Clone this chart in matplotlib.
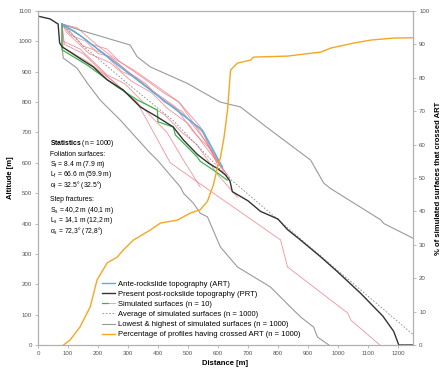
import numpy as np
import matplotlib
matplotlib.use("Agg")
import matplotlib.pyplot as plt
from matplotlib.legend_handler import HandlerTuple

plt.rcParams['font.family'] = ['Liberation Sans', 'DejaVu Sans']
plt.rcParams['mathtext.fontset'] = 'custom'
plt.rcParams['mathtext.rm'] = 'Liberation Sans'
plt.rcParams['mathtext.it'] = 'Liberation Sans:italic'
plt.rcParams['mathtext.bf'] = 'Liberation Sans:bold'

# profils (distance [m], altitude [m])
art_x = [80, 140, 274, 548, 615]
art_y = [1057, 1020, 916, 708, 586]

prt_x = [0, 40, 67, 72, 80, 107, 147, 184, 231, 284, 341, 398, 451, 485, 531, 570, 600,
         625, 640, 648, 700, 742, 800, 832, 870, 943, 1000, 1076, 1150, 1186, 1203, 1250]
prt_y = [1083, 1074, 1057, 995, 982, 965, 939, 916, 873, 840, 784, 751, 718, 675, 628, 598, 580,
         560, 540, 505, 475, 440, 415, 380, 350, 290, 240, 170, 95, 45, 0, 0]

green_x = [80, 80, 97, 164, 264, 331, 398, 400, 451, 458, 531, 541, 585, 631]
green_y = [1057, 972, 962, 922, 850, 807, 774, 735, 718, 692, 619, 605, 576, 543]

red_lines = [
    ([80, 150, 264, 350, 450, 550, 610], [1057, 1012, 929, 860, 790, 700, 585]),
    ([80, 120, 180, 230, 270, 350, 420, 470, 540, 600], [1057, 1035, 990, 975, 935, 880, 830, 800, 720, 590]),
    ([80, 110, 160, 200, 240, 300, 360, 420, 480, 560, 620], [1057, 1020, 1000, 960, 950, 900, 860, 800, 770, 670, 570]),
    ([80, 100, 150, 220, 280, 330, 400, 460, 520, 580, 630], [1057, 1040, 985, 960, 900, 880, 820, 780, 700, 640, 560]),
    ([80, 95, 170, 240, 310, 380, 430, 500, 560, 640], [1057, 1030, 960, 930, 870, 830, 780, 730, 650, 550]),
    ([80, 85, 140, 230, 290, 350, 420, 480, 530, 600, 665], [1057, 1000, 975, 890, 860, 800, 760, 700, 660, 560, 487]),
    ([80, 88, 150, 220, 330, 441, 585, 809, 832, 1033, 1043, 1140], [1057, 990, 960, 895, 800, 600, 500, 346, 257, 105, 82, 0]),
    ([80, 84, 170, 260, 350, 430, 485, 541], [1057, 980, 930, 860, 780, 700, 609, 520]),
    ([80, 130, 200, 260, 320, 400, 470, 540, 600], [1057, 1045, 985, 940, 905, 850, 800, 700, 600]),
]

avg_x = [80, 150, 300, 450, 631, 1250]
avg_y = [1057, 985, 860, 740, 555, 35]

high_x = [80, 140, 174, 307, 330, 374, 497, 608, 675, 775, 909, 953, 976, 1143, 1153, 1250]
high_y = [1057, 1037, 1027, 988, 950, 916, 862, 800, 784, 708, 609, 533, 515, 412, 400, 352]

low_x = [80, 80, 84, 130, 164, 207, 274, 374, 398, 475, 485, 518, 541, 565, 608, 665,
         775, 842, 876, 919, 932, 970]
low_y = [1057, 988, 945, 912, 863, 807, 741, 632, 609, 520, 500, 467, 434, 422, 323, 257,
         191, 125, 92, 59, 26, 0]

# pourcentage de profils ayant traversé ART
pct_x = [85, 107, 140, 174, 197, 231, 264, 284, 318, 374, 408, 465, 508, 541, 565, 585, 598,
         608, 620, 632, 642, 665, 709, 719, 832, 943, 976, 1053, 1110, 1186, 1250]
pct_y = [0, 1.5, 5.4, 11.4, 19.5, 24.6, 26.3, 28.4, 31.4, 34.4, 36.5, 37.4, 39.5, 40.5, 43, 48, 53,
         56, 62, 70.4, 82.3, 84.4, 85.3, 86.2, 86.5, 87.7, 88.9, 90.4, 91.3, 91.9, 92.0]

gris = "#9a9a9a"
fs = 4.9
fs_leg = 5.5

fig = plt.figure(figsize=(4.41, 3.73), dpi=100)
ax = fig.add_axes([0.0862, 0.0751, 0.850, 0.8954])
ax2 = ax.twinx()

for rx, ry in red_lines:
    l_red, = ax.plot(rx, ry, color="#ee7682", lw=0.6, alpha=0.8)
l_high, = ax.plot(high_x, high_y, color=gris, lw=0.8)
ax.plot(low_x, low_y, color=gris, lw=0.8)
l_avg, = ax.plot(avg_x, avg_y, color="#8a8a8a", lw=0.6, ls=(0, (2, 2)))
l_green, = ax.plot(green_x, green_y, color="#3cb54a", lw=0.9)
l_art, = ax.plot(art_x, art_y, color="#45b4e8", lw=1.0)
l_prt, = ax.plot(prt_x, prt_y, color="#333333", lw=1.0)
l_pct, = ax2.plot(pct_x, pct_y, color="#f5a623", lw=1.0)

ax.set_xlim(0, 1250)
ax.set_ylim(0, 1100)
ax2.set_ylim(0, 100)
ax.set_xticks(np.arange(0, 1201, 100))
ax.set_yticks(np.arange(0, 1101, 100))
ax2.set_yticks(np.arange(0, 101, 10))

for a in (ax, ax2):
    for s in a.spines.values():
        s.set_color("#b0b0b0")
        s.set_linewidth(0.8)
    a.tick_params(labelsize=4.4, colors="#555555", length=2.5, width=0.6, pad=2)
    a.tick_params(color="#b0b0b0")

ax.set_xlabel("Distance [m]", fontsize=5.5, fontweight="bold", labelpad=3)
ax.set_ylabel("Altitude [m]", fontsize=5.5, fontweight="bold", labelpad=3)
ax2.set_ylabel("% of simulated surfaces that crossed ART", fontsize=5.5, fontweight="bold", labelpad=4)

# statistiques
x0 = 40
ax.text(x0, 665, r"$\mathbf{Statistics}$ (n = 1000)", fontsize=fs, va="center")
ax.text(x0, 627, "Foliation surfaces:", fontsize=fs, va="center")
ax.text(x0, 595, r"S$_{\rm f}$ = 8.4 m (7.9 m)", fontsize=fs, va="center")
ax.text(x0, 561, r"L$_{\rm f}$ = 66.6 m (59.9 m)", fontsize=fs, va="center")
ax.text(x0, 526, r"α$_{\rm f}$ = 32.5° (32.5°)", fontsize=fs, va="center")
ax.text(x0, 479, "Step fractures:", fontsize=fs, va="center")
ax.text(x0, 443, r"S$_{\rm s}$ = 40,2 m (40,1 m)", fontsize=fs, va="center")
ax.text(x0, 409, r"L$_{\rm s}$ = 14,1 m (12,2 m)", fontsize=fs, va="center")
ax.text(x0, 374, r"α$_{\rm s}$ = 72,3° (72,8°)", fontsize=fs, va="center")

handles = [l_art, l_prt, (l_green, l_red), l_avg, l_high, l_pct]
labels = ["Ante-rockslide topography (ART)",
          "Present post-rockslide topography (PRT)",
          "Simulated surfaces (n = 10)",
          "Average of simulated surfaces (n = 1000)",
          "Lowest & highest of simulated surfaces (n = 1000)",
          "Percentage of profiles having crossed ART (n = 1000)"]
ax.legend(handles, labels, loc="upper left", bbox_to_anchor=(0.162, 0.2015),
          fontsize=fs_leg, frameon=False, handlelength=1.7, handletextpad=0.4,
          labelspacing=0.35, borderaxespad=0,
          handler_map={tuple: HandlerTuple(ndivide=None, pad=0)})

fig.savefig("out.png", dpi=100)
